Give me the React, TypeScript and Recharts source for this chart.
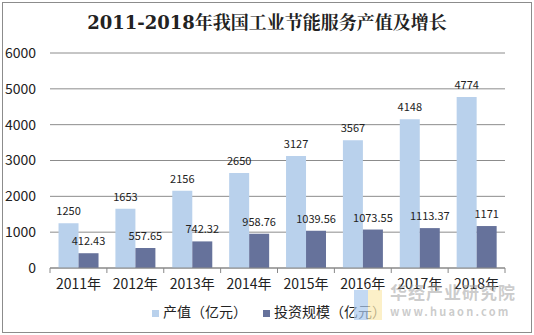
import React from 'react';
import { BarChart, Bar, XAxis, YAxis, CartesianGrid, Legend, LabelList } from 'recharts';

const years = ['2011年', '2012年', '2013年', '2014年', '2015年', '2016年', '2017年', '2018年'];
const output = [1250, 1653, 2156, 2650, 3127, 3567, 4148, 4774];
const investment = [412.43, 557.65, 742.32, 958.76, 1039.56, 1073.55, 1113.37, 1171];
const yTicks = [0, 1000, 2000, 3000, 4000, 5000, 6000];

const data = years.map((year, i) => ({ year, output: output[i], investment: investment[i] }));

const LIGHT = '#b9d1ec';
const DARK = '#66729b';
const FONT = '"Noto Sans CJK SC", "Noto Sans", sans-serif';

const PLOT_LEFT = 50;
const PLOT_RIGHT = 505;
const STEP = (PLOT_RIGHT - PLOT_LEFT) / years.length;

const XTick = (props: any) => {
  const { x, y, payload, index } = props;
  return (
    <g>
      <line x1={x - STEP / 2} x2={x - STEP / 2} y1={y - 8} y2={y - 3} stroke="#888" />
      {index === years.length - 1 && (
        <line x1={x + STEP / 2} x2={x + STEP / 2} y1={y - 8} y2={y - 3} stroke="#888" />
      )}
      <text x={x} y={y + 13} textAnchor="middle" fill="#222" fontSize={14} fontFamily={FONT}>
        {payload.value}
      </text>
    </g>
  );
};

const App: React.FC = () => {
  return (
    <div style={{ position: 'fixed', left: 0, top: 0, width: 534, height: 335, background: '#fff' }}>
      <div
        style={{
          position: 'absolute', left: 2, top: 2, width: 528, height: 329,
          border: '1px solid #8c8c8c', boxSizing: 'content-box',
        }}
      />
      <div
        style={{
          position: 'absolute', left: 0, top: 8, width: 534, textAlign: 'center',
          fontFamily: '"DejaVu Serif", "Noto Serif CJK SC", serif', fontWeight: 'bold', fontSize: 18, color: '#222',
        }}
      >
        2011-2018年我国工业节能服务产值及增长
      </div>
      <BarChart
        width={534}
        height={335}
        data={data}
        margin={{ top: 53, right: 534 - PLOT_RIGHT, bottom: 6, left: 0 }}
        barCategoryGap="15%"
        barGap={0}
        style={{ position: 'absolute', left: 0, top: 0 }}
      >
        <CartesianGrid vertical={false} stroke="#8c8c8c" />
        <XAxis
          dataKey="year"
          axisLine={{ stroke: '#888' }}
          tickLine={false}
          tick={<XTick />}
          interval={0}
          height={30}
        />
        <YAxis
          domain={[0, 6000]}
          ticks={yTicks}
          axisLine={false}
          tickLine={false}
          width={PLOT_LEFT}
          tick={{ fill: '#222', fontSize: 14, fontFamily: FONT }}
          tickMargin={8}
        />
        <Legend
          verticalAlign="bottom"
          height={31}
          iconType="square"
          iconSize={7}
          wrapperStyle={{ fontFamily: FONT, fontSize: 14, color: '#222', left: 10, width: 534, bottom: 3 }}
          formatter={(value: string) => <span style={{ color: '#222', marginRight: 6 }}>{value}</span>}
        />
        <Bar dataKey="output" name="产值（亿元）" fill={LIGHT} isAnimationActive={false}>
          <LabelList dataKey="output" position="top" offset={8} fill="#222" fontSize={11} fontFamily={FONT} />
        </Bar>
        <Bar dataKey="investment" name="投资规模（亿元）" fill={DARK} isAnimationActive={false}>
          <LabelList dataKey="investment" position="top" offset={8} fill="#222" fontSize={11} fontFamily={FONT} />
        </Bar>
      </BarChart>
      <div style={{ position: 'absolute', left: 354, top: 290, width: 14, height: 30, background: '#a9c9ee', opacity: 0.7 }} />
      <div style={{ position: 'absolute', left: 368, top: 290, width: 14, height: 30, background: '#fbeab0', opacity: 0.7 }} />
      <div
        style={{
          position: 'absolute', left: 390, top: 281, fontFamily: FONT, fontWeight: 'bold',
          fontSize: 17, color: 'rgba(160,160,160,0.55)', letterSpacing: 1, lineHeight: '22px',
        }}
      >
        华经产业研究院
      </div>
      <div
        style={{
          position: 'absolute', left: 390, top: 304, fontFamily: FONT, fontWeight: 'bold',
          fontSize: 11, color: 'rgba(160,160,160,0.55)', letterSpacing: 2.2, lineHeight: '14px',
        }}
      >
        www.huaon.com
      </div>
    </div>
  );
};

export default App;
